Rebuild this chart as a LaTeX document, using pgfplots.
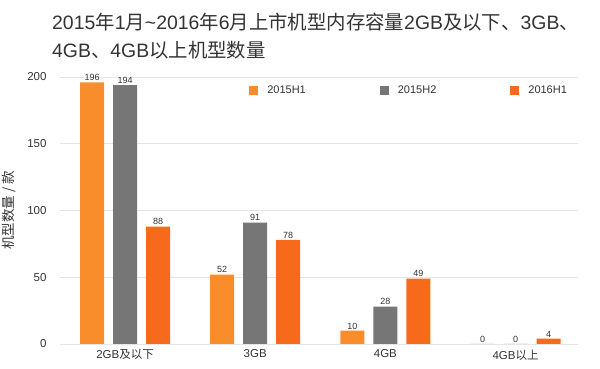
\documentclass[border=0pt]{standalone}
\usepackage{pgfplots}
\pgfplotsset{compat=1.18}
\usepackage{fontspec}
\setmainfont{Liberation Sans}
\newfontfamily\cjk{Noto Sans CJK SC}
\definecolor{cA}{HTML}{F98D2B}
\definecolor{cB}{HTML}{767676}
\definecolor{cC}{HTML}{F76A1C}
\definecolor{txt}{HTML}{333333}
\begin{document}
\begin{tikzpicture}
\useasboundingbox (0pt,0pt) rectangle (600pt,369pt);
\node[anchor=west, font=\fontsize{19.4}{22}\selectfont, text=txt, inner sep=0] at (52pt,347pt) {2015{\cjk 年}1{\cjk 月}\textasciitilde2016{\cjk 年}6{\cjk 月上市机型内存容量}2GB{\cjk 及以下、}3GB{\cjk 、}};
\node[anchor=west, font=\fontsize{19.4}{22}\selectfont, text=txt, inner sep=0] at (52pt,319pt) {4GB{\cjk 、}4GB{\cjk 以上机型数量}};
\begin{axis}[
  at={(60pt,25pt)}, anchor=south west,
  scale only axis, width=518pt, height=267pt,
  xmin=-0.5, xmax=3.48, ymin=0, ymax=200,
  ybar=9pt, bar width=24pt,
  xtick={0,1,2,3}, xticklabels={2GB{\cjk 及以下},3GB,4GB,4GB{\cjk 以上}},
  ytick={0,50,100,150,200},
  ymajorgrids, grid style={color=black!10, line width=0.6pt},
  axis line style={draw=none},
  major tick length=0pt,
  /pgf/number format/assume math mode=true,
  tick label style={font=\fontsize{11.5}{13}\selectfont, text=txt},
  yticklabel style={xshift=-10pt},
  xticklabel style={yshift=-2pt},
  ylabel={{\cjk 机型数量 / 款}},
  ylabel style={font=\fontsize{13.5}{15}\selectfont, text=txt, yshift=4pt},
  nodes near coords,
  nodes near coords style={font=\fontsize{9}{10}\selectfont, text=txt, yshift=-2pt},
  clip=false,
  legend columns=3,
  legend style={draw=none, fill=none, at={(0.674,0.951)}, anchor=center,
    font=\fontsize{11}{13}\selectfont, text=txt,
    /tikz/every odd column/.append style={column sep=7pt},
    /tikz/every even column/.append style={column sep=72pt}},
  legend image code/.code={\fill[#1] (0pt,-4.5pt) rectangle (9pt,4.5pt);},
]
\addplot[fill=cA, draw=none] coordinates {(0,196) (1,52) (2,10) (3,0)};
\addplot[fill=cB, draw=none] coordinates {(0,194) (1,91) (2,28) (3,0)};
\addplot[fill=cC, draw=none] coordinates {(0,88) (1,78) (2,49) (3,4)};
\legend{2015H1,2015H2,2016H1}
\end{axis}
\end{tikzpicture}
\end{document}
